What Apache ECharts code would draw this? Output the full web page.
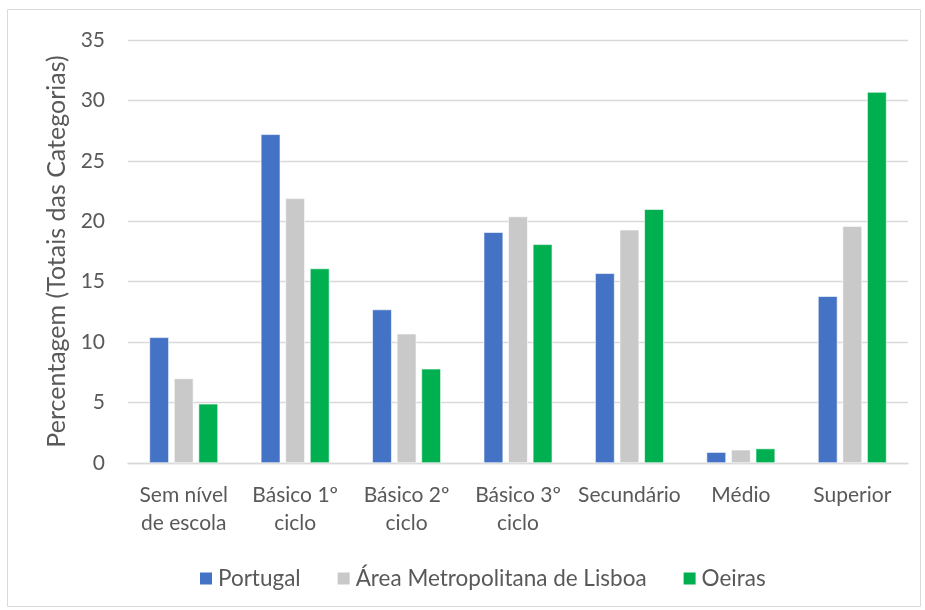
<!DOCTYPE html>
<html>
<head>
<meta charset="utf-8">
<script src="https://cdn.jsdelivr.net/npm/echarts@6/dist/echarts.min.js"></script>
<style>
  html, body { margin: 0; padding: 0; background: #fff; }
</style>
</head>
<body>
<div id="chart" style="width: 925px; height: 610px"></div>
<script>
// niveis de escolaridade
const categories = [
  "Sem nível\nde escola",
  "Básico 1º\nciclo",
  "Básico 2º\nciclo",
  "Básico 3º\nciclo",
  "Secundário",
  "Médio",
  "Superior",
];
const portugal = [10.4, 27.2, 12.7, 19.1, 15.7, 0.9, 13.8];
const aml = [7.0, 21.9, 10.7, 20.4, 19.3, 1.1, 19.6];
const oeiras = [4.9, 16.1, 7.8, 18.1, 21.0, 1.2, 30.7];
const seriesNames = ["Portugal", "Área Metropolitana de Lisboa", "Oeiras"];
const colors = ["#4472C4", "#C9C9C9", "#00B050"];

const font = "Lato, 'Open Sans', sans-serif";
const myChart = echarts.init(document.getElementById("chart"));

function bar(name, data, color) {
  return {
    name: name,
    type: "bar",
    data: data,
    barWidth: 19.5,
    barGap: "26%",
    itemStyle: { color: color, borderColor: "#fff", borderWidth: 0.6 },
  };
}

const option = {
  animation: false,
  textStyle: { fontFamily: font },
  graphic: [
    {
      type: "rect",
      shape: { x: 7.5, y: 9.5, width: 913, height: 597 },
      style: { fill: "none", stroke: "#D9D9D9", lineWidth: 1 },
    },
  ],
  grid: { left: 128, right: 17, top: 40, bottom: 147 },
  legend: {
    top: 567,
    left: 198,
    padding: 0,
    itemWidth: 14,
    itemHeight: 14,
    itemGap: 35,
    icon: "rect",
    textStyle: { fontSize: 22.5, color: "#595959", fontFamily: font },
    data: seriesNames,
  },
  xAxis: {
    type: "category",
    data: categories,
    axisLine: { lineStyle: { color: "#D9D9D9", width: 1.3 } },
    axisTick: { show: false },
    axisLabel: {
      fontSize: 21,
      color: "#595959",
      lineHeight: 28,
      margin: 18,
      interval: 0,
      fontFamily: font,
    },
  },
  yAxis: {
    type: "value",
    min: 0,
    max: 35,
    interval: 5,
    name: "Percentagem (Totais das Categorias)",
    nameLocation: "middle",
    nameGap: 56,
    nameTextStyle: { fontSize: 25, color: "#595959", fontFamily: font },
    axisLine: { show: false },
    axisTick: { show: false },
    axisLabel: { fontSize: 21, color: "#595959", margin: 23, fontFamily: font },
    splitLine: { lineStyle: { color: "#D9D9D9", width: 1.3 } },
  },
  series: [
    bar(seriesNames[0], portugal, colors[0]),
    bar(seriesNames[1], aml, colors[1]),
    bar(seriesNames[2], oeiras, colors[2]),
  ],
};
myChart.setOption(option);
</script>
</body>
</html>
